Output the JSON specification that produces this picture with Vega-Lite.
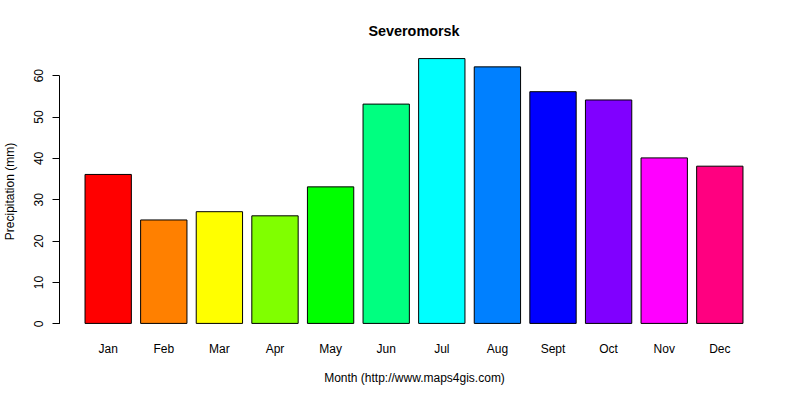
{
  "$schema": "https://vega.github.io/schema/vega-lite/v6.json",
  "width": 710,
  "height": 286,
  "autosize": {"type": "none"},
  "padding": {"left": 59, "top": 48, "right": 31, "bottom": 66},
  "background": "white",
  "title": {
    "text": "Severomorsk",
    "font": "Liberation Sans",
    "fontSize": 14.4,
    "fontWeight": "bold",
    "color": "black",
    "anchor": "middle",
    "baseline": "alphabetic",
    "offset": -2
  },
  "data": {
    "values": [
      {"month": "Jan", "precip": 36},
      {"month": "Feb", "precip": 25},
      {"month": "Mar", "precip": 27},
      {"month": "Apr", "precip": 26},
      {"month": "May", "precip": 33},
      {"month": "Jun", "precip": 53},
      {"month": "Jul", "precip": 64},
      {"month": "Aug", "precip": 62},
      {"month": "Sept", "precip": 56},
      {"month": "Oct", "precip": 54},
      {"month": "Nov", "precip": 40},
      {"month": "Dec", "precip": 38}
    ]
  },
  "mark": {"type": "bar", "stroke": "black", "strokeWidth": 1, "opacity": 1},
  "encoding": {
    "x": {
      "field": "month",
      "type": "nominal",
      "sort": null,
      "title": "Month (http://www.maps4gis.com)",
      "scale": {"paddingInner": 0.1667, "paddingOuter": 0.468},
      "axis": {
        "domain": false,
        "ticks": false,
        "tickSize": 0,
        "labelAngle": 0,
        "labelBaseline": "alphabetic",
        "labelPadding": 18,
        "labelFont": "Liberation Sans",
        "labelFontSize": 12,
        "labelColor": "black",
        "titleFont": "Liberation Sans",
        "titleFontSize": 12,
        "titleFontWeight": "normal",
        "titleColor": "black",
        "titleBaseline": "alphabetic",
        "titleY": 47
      }
    },
    "y": {
      "field": "precip",
      "type": "quantitative",
      "title": "Precipitation (mm)",
      "scale": {"domain": [-2.56, 66.56], "nice": false, "zero": false},
      "axis": {
        "values": [0, 10, 20, 30, 40, 50, 60],
        "grid": false,
        "domainColor": "black",
        "domainDash": [0, 10.59, 248.3, 1000],
        "tickColor": "black",
        "tickSize": 7,
        "labelAngle": -90,
        "labelAlign": "center",
        "labelBaseline": "alphabetic",
        "labelPadding": 10,
        "labelFont": "Liberation Sans",
        "labelFontSize": 12,
        "labelColor": "black",
        "titleFont": "Liberation Sans",
        "titleFontSize": 12,
        "titleFontWeight": "normal",
        "titleColor": "black",
        "titleBaseline": "alphabetic",
        "titleX": -46
      }
    },
    "y2": {"datum": 0},
    "color": {
      "field": "month",
      "type": "nominal",
      "sort": null,
      "legend": null,
      "scale": {
        "domain": ["Jan", "Feb", "Mar", "Apr", "May", "Jun", "Jul", "Aug", "Sept", "Oct", "Nov", "Dec"],
        "range": ["#FF0000", "#FF8000", "#FFFF00", "#80FF00", "#00FF00", "#00FF80", "#00FFFF", "#0080FF", "#0000FF", "#8000FF", "#FF00FF", "#FF0080"]
      }
    }
  },
  "config": {"view": {"stroke": null}}
}
